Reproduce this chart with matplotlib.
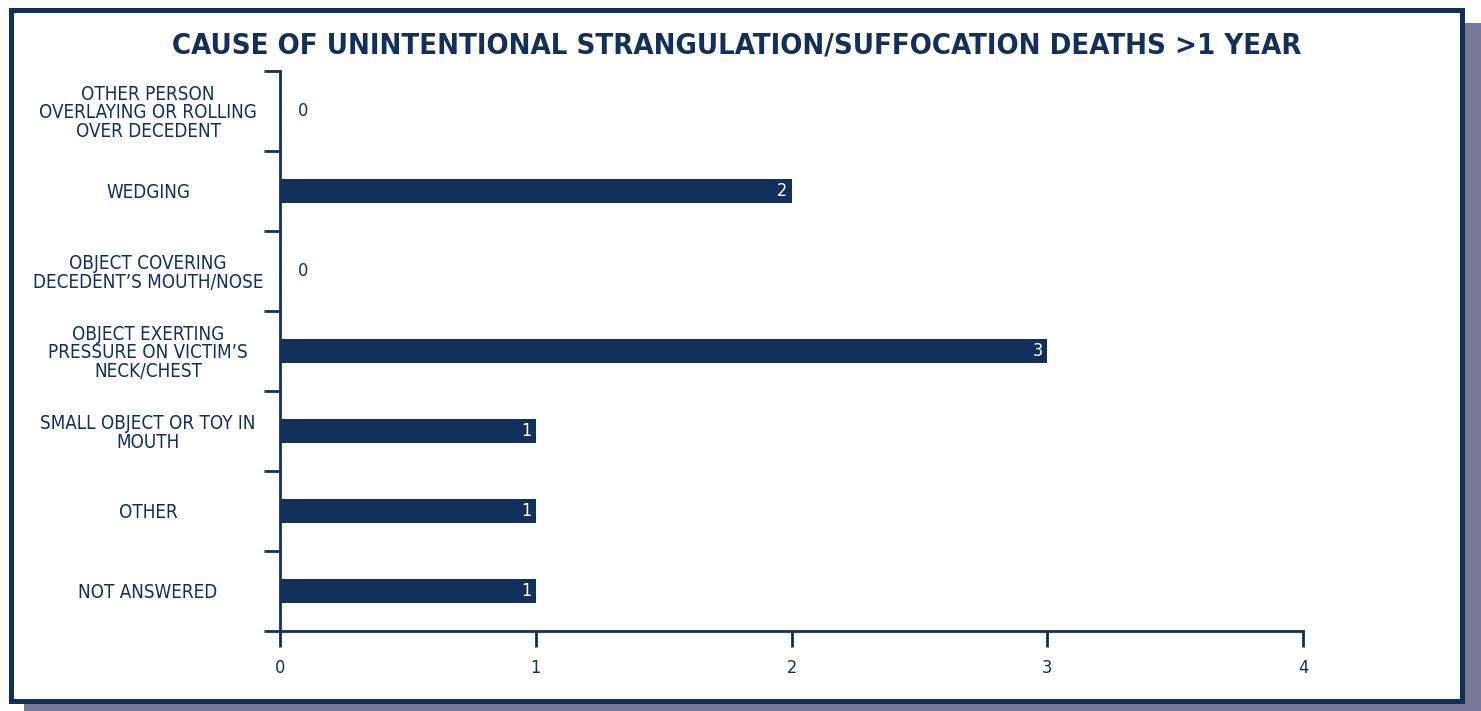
import matplotlib.pyplot as plt
from matplotlib.patches import Rectangle
from matplotlib.ticker import FixedLocator

categories = [
    "OTHER PERSON\nOVERLAYING OR ROLLING\nOVER DECEDENT",
    "WEDGING",
    "OBJECT COVERING\nDECEDENT\u2019S MOUTH/NOSE",
    "OBJECT EXERTING\nPRESSURE ON VICTIM\u2019S\nNECK/CHEST",
    "SMALL OBJECT OR TOY IN\nMOUTH",
    "OTHER",
    "NOT ANSWERED",
]
deaths = [0, 2, 0, 3, 1, 1, 1]
x_ticks = [0, 1, 2, 3, 4]

navy = "#13305a"
shadow = "#777798"

W, H, DPI = 1481, 711, 100
fig = plt.figure(figsize=(W / DPI, H / DPI), dpi=DPI)

def px(x0, y0, w, h):
    # pixel box (top-left origin) -> figure fraction
    return (x0 / W, 1 - (y0 + h) / H, w / W, h / H)

# drop shadow and framed panel
x, y, w, h = px(24, 23, W - 24, H - 23)
fig.patches.append(Rectangle((x, y), w, h, transform=fig.transFigure,
                             facecolor=shadow, edgecolor="none", zorder=0))
x, y, w, h = px(10.5, 9.5, 1451, 691)
fig.patches.append(Rectangle((x, y), w, h, transform=fig.transFigure,
                             facecolor="white", edgecolor=navy, linewidth=3.6, zorder=1))

ax = fig.add_axes(px(280, 71, 1023, 560))
ax.set_facecolor("none")
ax.set_zorder(2)

ypos = list(range(len(categories)))
ax.barh(ypos, deaths, height=0.3, color=navy)
ax.set_xlim(0, 4)
ax.set_ylim(len(categories) - 0.5, -0.5)

for s in ["top", "right"]:
    ax.spines[s].set_visible(False)
for s in ["left", "bottom"]:
    ax.spines[s].set_color(navy)
    ax.spines[s].set_linewidth(2.0)

ax.set_xticks(x_ticks)
ax.set_xticklabels([str(v) for v in x_ticks], fontstretch="condensed")
ax.tick_params(axis="x", colors=navy, length=11.5, width=2.0, pad=9,
               labelsize=13)

# category labels centred left of the axis, boundary ticks between them
ax.set_yticks(ypos)
ax.set_yticklabels(categories, fontsize=13.5, color=navy, ha="center",
                   linespacing=0.98, fontstretch="condensed")
ax.tick_params(axis="y", which="major", length=0, pad=95)
ax.yaxis.set_minor_locator(FixedLocator([i - 0.5 for i in range(len(categories) + 1)]))
ax.tick_params(axis="y", which="minor", length=11.5, width=2.0, color=navy)

for yi, v in zip(ypos, deaths):
    if v > 0:
        ax.annotate(str(v), (v, yi), xytext=(-3, 0), textcoords="offset points",
                    ha="right", va="center", color="white", fontsize=13,
                    fontstretch="condensed")
    else:
        ax.annotate(str(v), (v, yi), xytext=(13, 0), textcoords="offset points",
                    ha="left", va="center", color=navy, fontsize=13,
                    fontstretch="condensed")

fig.text(736.5 / W, 1 - 53 / H,
         "CAUSE OF UNINTENTIONAL STRANGULATION/SUFFOCATION DEATHS >1 YEAR",
         ha="center", va="baseline", color=navy, fontsize=21,
         fontweight="bold", fontstretch="condensed", zorder=3)

fig.savefig("out.png", dpi=DPI)
